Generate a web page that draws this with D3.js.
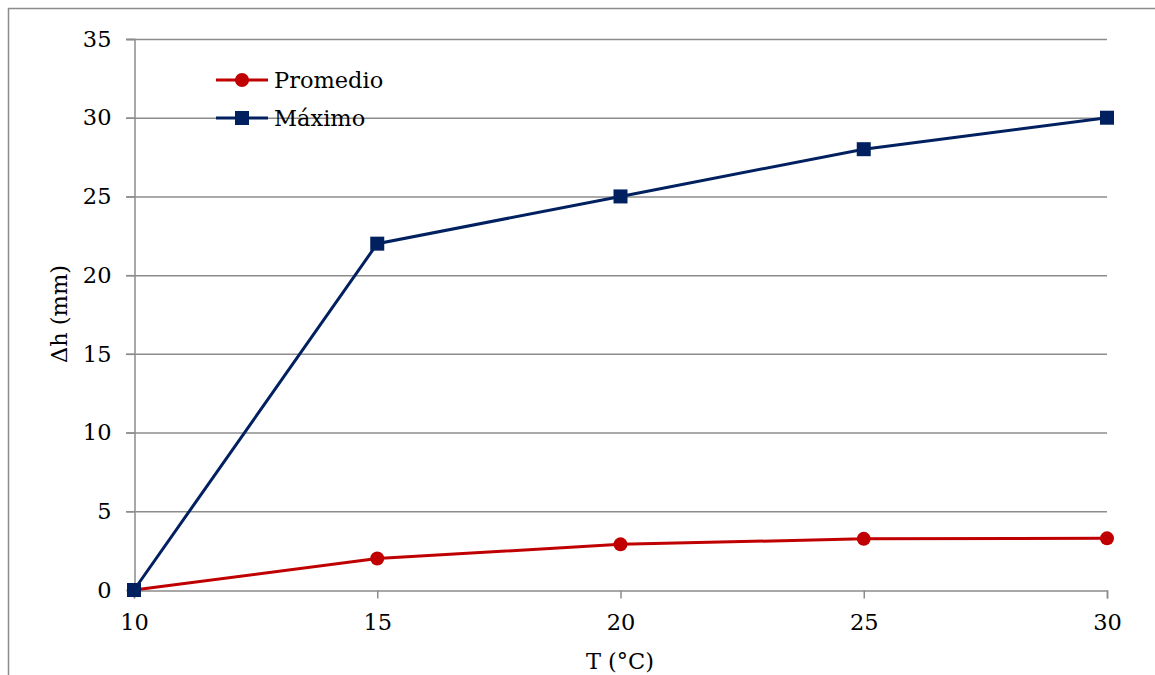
<!DOCTYPE html>
<html><head><meta charset="utf-8">
<script src="https://cdn.jsdelivr.net/npm/d3@7"></script>
<style>body{margin:0;background:#fff}svg{display:block}text{font-family:"DejaVu Serif","Liberation Serif",serif;fill:#000}</style>
</head><body><svg width="1155" height="675"></svg>
<script>
const temps = [10, 15, 20, 25, 30];
const promedio = [0, 2.0, 2.9, 3.25, 3.28];
const maximo = [0, 22, 25, 28, 30];
const xTicks = [10, 15, 20, 25, 30];
const yTicks = [0, 5, 10, 15, 20, 25, 30, 35];
const seriesNames = ["Promedio", "Máximo"];
const colors = ["#C00000", "#002060"];
const FS = 22.5;

const svg = d3.select("svg");
// outer frame
svg.append("path").attr("d","M8.5,675 V8.5 H1155").attr("fill","none").attr("stroke","#8c8c8c").attr("stroke-width",1.5);

const x = d3.scaleLinear().domain([10,30]).range([134,1107]);
const y = d3.scaleLinear().domain([0,35]).range([590,39]);
const grid = "#8c8c8c";

// gridlines
svg.append("g").selectAll("line").data(yTicks.filter(d=>d>0)).join("line")
  .attr("x1",126).attr("x2",1107).attr("y1",d=>y(d)+0.5).attr("y2",d=>y(d)+0.5)
  .attr("stroke",grid).attr("stroke-width",1.5);
// y axis
const ya = svg.append("g").attr("transform","translate(134.5,0)")
  .call(d3.axisLeft(y).tickValues(yTicks).tickSize(8).tickPadding(15).tickFormat(d3.format("d")));
ya.select(".domain").attr("stroke",grid).attr("stroke-width",1.5);
ya.selectAll("line").attr("stroke",grid).attr("stroke-width",1.5);
ya.selectAll("text").attr("font-size",FS).style("font-family","DejaVu Serif").attr("fill","#000");
// x axis
const xa = svg.append("g").attr("transform","translate(0,590.5)")
  .call(d3.axisBottom(x).tickValues(xTicks).tickSize(8).tickPadding(16).tickFormat(d3.format("d")));
xa.select(".domain").attr("stroke",grid).attr("stroke-width",1.5);
xa.selectAll("line").attr("stroke",grid).attr("stroke-width",1.5);
xa.selectAll("text").attr("font-size",FS).style("font-family","DejaVu Serif").attr("fill","#000");

// axis titles
svg.append("text").attr("x",620).attr("y",669).attr("text-anchor","middle").attr("font-size",FS).text("T (°C)");
svg.append("text").attr("transform","translate(67,314) rotate(-90)").attr("text-anchor","middle").attr("font-size",FS).text("Δh (mm)");

const line = d3.line().x((d,i)=>x(temps[i])).y(d=>y(d));
// Promedio
svg.append("path").datum(promedio).attr("d",line).attr("fill","none").attr("stroke",colors[0]).attr("stroke-width",3);
svg.append("g").selectAll("circle").data(promedio).join("circle")
  .attr("cx",(d,i)=>x(temps[i])).attr("cy",d=>y(d)).attr("r",7).attr("fill",colors[0]);
// Máximo
svg.append("path").datum(maximo).attr("d",line).attr("fill","none").attr("stroke",colors[1]).attr("stroke-width",3);
svg.append("g").selectAll("rect").data(maximo).join("rect")
  .attr("x",(d,i)=>x(temps[i])-7).attr("y",d=>y(d)-7).attr("width",14).attr("height",14).attr("fill",colors[1]);

// legend
const lg = svg.append("g");
seriesNames.forEach((n,i)=>{
  const ly = 80 + i*38;
  lg.append("line").attr("x1",216).attr("x2",268).attr("y1",ly).attr("y2",ly).attr("stroke",colors[i]).attr("stroke-width",3);
  if(i===0) lg.append("circle").attr("cx",242).attr("cy",ly).attr("r",7).attr("fill",colors[i]);
  else lg.append("rect").attr("x",235).attr("y",ly-7).attr("width",14).attr("height",14).attr("fill",colors[i]);
  lg.append("text").attr("x",274).attr("y",ly+8).attr("font-size",FS).text(n);
});
</script></body></html>
